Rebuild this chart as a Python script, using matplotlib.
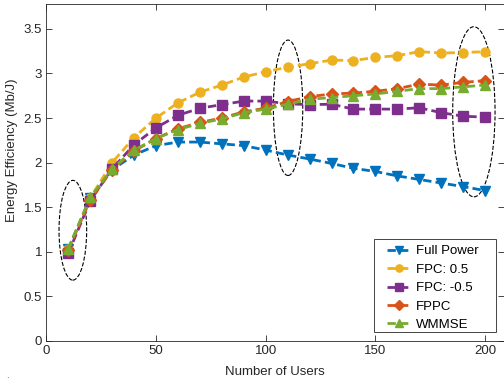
import matplotlib
matplotlib.use('Agg')
import matplotlib.pyplot as plt
from matplotlib.patches import Ellipse, Rectangle
from matplotlib.ticker import FormatStrFormatter

plt.rcParams['font.family'] = ['Liberation Sans', 'DejaVu Sans']
plt.rcParams['font.size'] = 9.5

users = list(range(10, 201, 10))

full_power = [1.03, 1.60, 1.92, 2.085, 2.19, 2.23, 2.23, 2.21, 2.19, 2.14,
              2.085, 2.04, 1.99, 1.935, 1.90, 1.85, 1.81, 1.77, 1.73, 1.685]
fpc_pos = [1.03, 1.60, 2.00, 2.28, 2.50, 2.67, 2.79, 2.87, 2.96, 3.02,
           3.07, 3.11, 3.15, 3.145, 3.18, 3.20, 3.245, 3.23, 3.235, 3.245]
fpc_neg = [0.98, 1.57, 1.93, 2.20, 2.39, 2.53, 2.61, 2.65, 2.69, 2.69,
           2.66, 2.65, 2.655, 2.60, 2.60, 2.60, 2.615, 2.56, 2.52, 2.51]
fppc = [1.02, 1.58, 1.92, 2.13, 2.27, 2.38, 2.45, 2.50, 2.57, 2.61,
        2.685, 2.74, 2.77, 2.78, 2.80, 2.83, 2.88, 2.87, 2.90, 2.92]
wmmse = [1.03, 1.61, 1.93, 2.14, 2.27, 2.37, 2.44, 2.49, 2.56, 2.60,
         2.655, 2.71, 2.73, 2.75, 2.77, 2.80, 2.83, 2.83, 2.85, 2.87]

series = [
    ('Full Power', full_power, '#0072BD', 'v'),
    ('FPC: 0.5', fpc_pos, '#EDB120', 'o'),
    ('FPC: -0.5', fpc_neg, '#7E2F8E', 's'),
    ('FPPC', fppc, '#D95319', 'D'),
    ('WMMSE', wmmse, '#77AC30', '^'),
]

# highlighted regions: (x center, y center, width, height)
ellipses = [(12.1, 1.24, 12.6, 1.12), (110.2, 2.615, 13.4, 1.52), (194.9, 2.57, 19.3, 1.91)]

fig = plt.figure(figsize=(5.04, 3.86), dpi=100)
ax = fig.add_axes([46.3 / 504, 45.3 / 386, 457.2 / 504, 336.7 / 386])

for label, vals, color, mk in series:
    ax.plot(users, vals, linestyle='--', color=color, marker=mk, markersize=6.5,
            linewidth=2, label=label, dashes=(3, 1.5))

for cx, cy, w, h in ellipses:
    ax.add_patch(Ellipse((cx, cy), w, h, fill=False, edgecolor='black',
                         linestyle='--', linewidth=0.8))

ax.set_xlim(0, 208.4)
ax.set_ylim(0, 3.78)
ax.set_xticks([0, 50, 100, 150, 200])
ax.set_yticks([0, 0.5, 1, 1.5, 2, 2.5, 3, 3.5])
ax.yaxis.set_major_formatter(FormatStrFormatter('%g'))
ax.tick_params(direction='in', top=True, right=True, length=4, width=0.6,
               colors='#262626', labelsize=9.5, pad=3)
for sp in ax.spines.values():
    sp.set_linewidth(0.6)
    sp.set_color('#262626')

ax.set_xlabel('Number of Users', color='#262626')
ax.set_ylabel('Energy Efficiency (Mb/J)', color='#262626')
ax.xaxis.set_label_coords(0.5, -0.075)
ax.yaxis.set_label_coords(-0.062, 0.566)

# legend frame drawn separately (MATLAB style wide padding)
ax.add_patch(Rectangle((0.7168, 0.0258), 0.2668, 0.2762, transform=ax.transAxes,
                       facecolor='white', edgecolor='#262626', linewidth=0.6, zorder=4.5))
leg = ax.legend(loc='upper left', bbox_to_anchor=(0.745, 0.284), frameon=False,
                handlelength=1.9, markerscale=0.8, handletextpad=0.3,
                labelspacing=0.47, borderpad=0, borderaxespad=0)
leg.set_zorder(5)

fig.text(0.012, 0.02, '.', fontsize=7, color='#555555')

fig.savefig('out.png', dpi=100)
